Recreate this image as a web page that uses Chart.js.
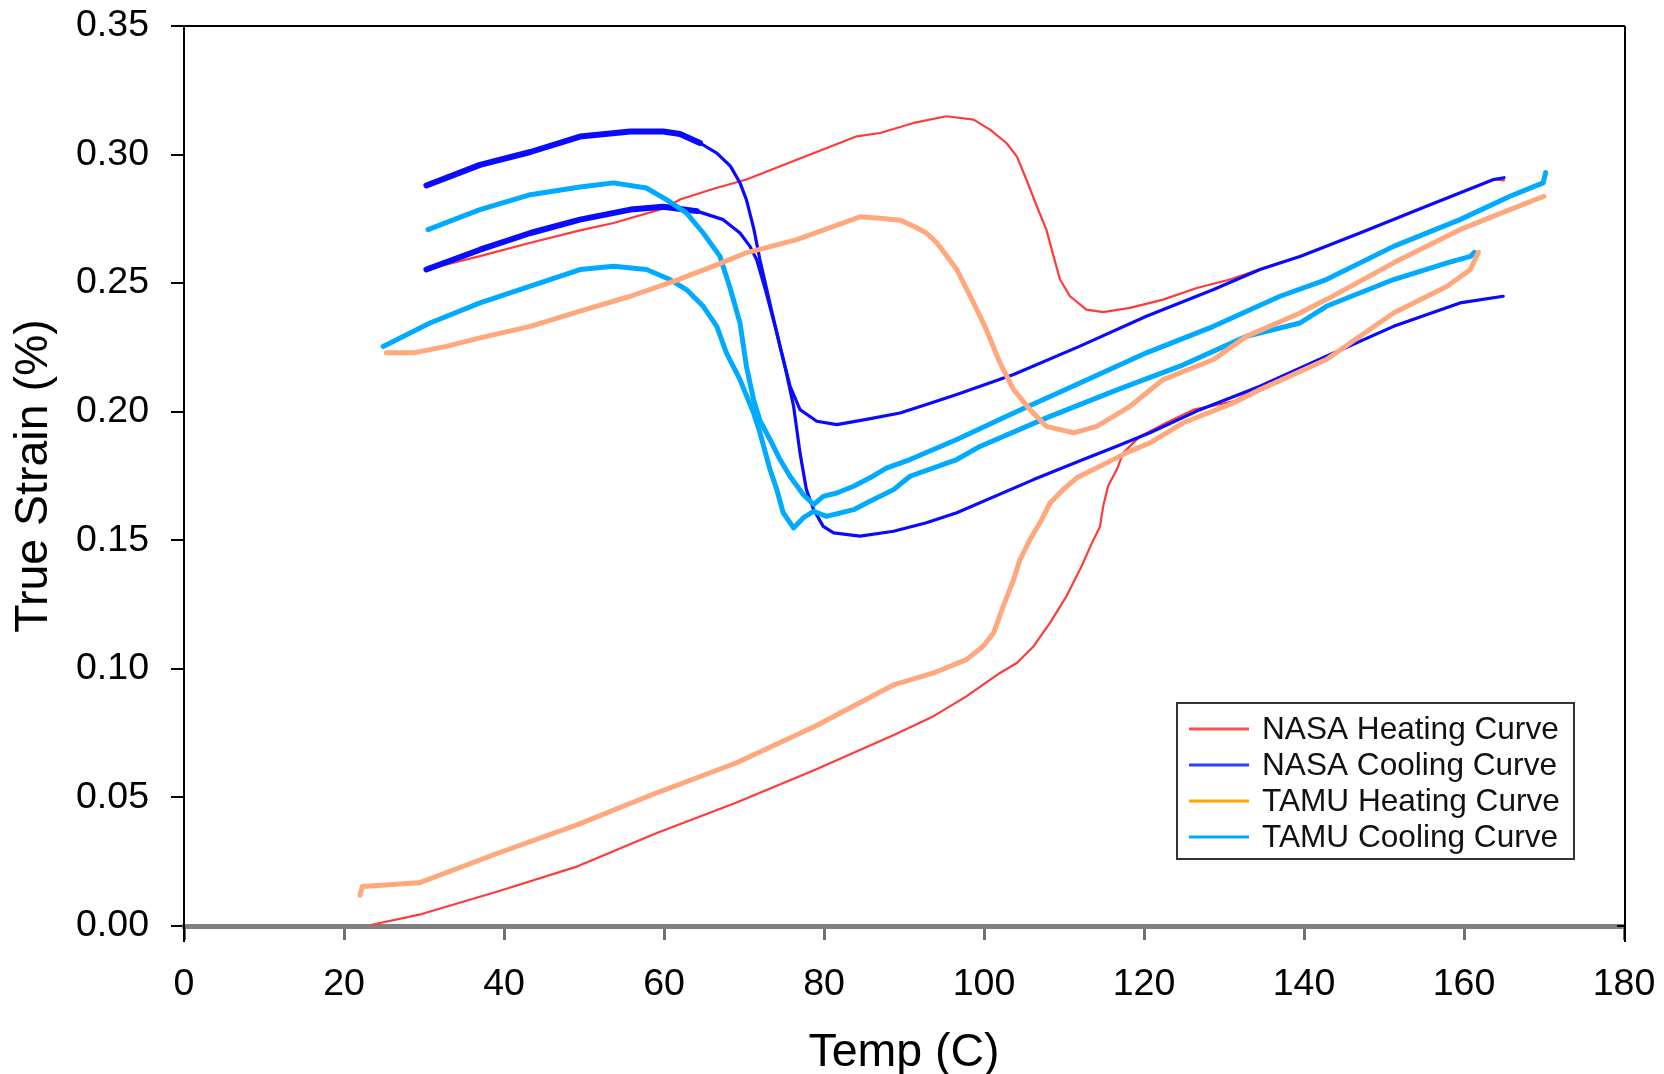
<!DOCTYPE html>
<html>
<head>
<meta charset="utf-8">
<script src="https://cdn.jsdelivr.net/npm/chart.js@4.4.1/dist/chart.umd.min.js"></script>
<style>
  html, body { margin: 0; padding: 0; background: #fff; }
  canvas { display: block; }
</style>
</head>
<body>
<canvas id="graficoCanvas" width="1664" height="1074"></canvas>
<script>
// tick labels
const xTickLabels = ['0', '20', '40', '60', '80', '100', '120', '140', '160', '180'];
const yTickLabels = ['0.00', '0.05', '0.10', '0.15', '0.20', '0.25', '0.30', '0.35'];

// NASA heating, first run (starts at 0)
const nasaHeatLowT = [23.5, 29.4, 39.3, 49.2, 59.1, 69, 78.9, 88.8, 93.7, 97.8, 102, 104.1, 106.2, 108.25, 110.3, 112, 113.5, 114.5, 114.9, 115.5, 116.6, 117.4, 119.5, 122.8, 126.2, 131.2, 134.5, 142.8, 151.2, 159.5, 164.9];
const nasaHeatLowS = [0.0005, 0.0044, 0.0135, 0.0232, 0.0362, 0.0479, 0.0608, 0.0744, 0.0816, 0.0893, 0.0984, 0.1023, 0.1088, 0.1179, 0.1282, 0.1386, 0.149, 0.1554, 0.1632, 0.171, 0.1775, 0.184, 0.1904, 0.1957, 0.2008, 0.204, 0.2099, 0.2216, 0.2332, 0.2423, 0.2449];

// NASA heating, second run
const nasaHeatUpT = [30.3, 37, 43.3, 49.5, 53.7, 59.9, 62, 66, 70.3, 76.6, 84.1, 87, 91.2, 95.3, 98.7, 100.75, 102.8, 104.1, 105.3, 106.6, 107.8, 108.7, 109.5, 110.75, 112.8, 114.9, 118.25, 122.4, 126.6, 130.75, 134.9, 139.5, 147, 155.3, 163.7, 165];
const nasaHeatUpS = [0.2553, 0.2605, 0.2657, 0.2705, 0.2734, 0.279, 0.2825, 0.2865, 0.2903, 0.298, 0.3071, 0.3084, 0.3123, 0.3149, 0.3136, 0.3097, 0.3045, 0.2993, 0.2903, 0.2799, 0.2708, 0.2604, 0.2514, 0.2449, 0.2397, 0.2387, 0.2404, 0.2436, 0.2481, 0.2514, 0.2559, 0.2604, 0.2695, 0.2799, 0.2903, 0.29];

// NASA cooling, upper loop
const nasaCoolUpT = [30.3, 37, 43.3, 49.5, 55.8, 59.9, 62, 64.5, 66.6, 68.3, 69.5, 70.3, 71.2, 72, 73.25, 74.5, 75.75, 77, 79.1, 81.6, 85.3, 89.5, 92.8, 96.6, 103.7, 112, 120.3, 128.7, 134.5, 139.5, 147, 155.3, 163.7, 165];
const nasaCoolUpS = [0.288, 0.296, 0.301, 0.307, 0.309, 0.309, 0.308, 0.3045, 0.3006, 0.2955, 0.289, 0.2825, 0.2715, 0.259, 0.242, 0.2255, 0.21, 0.2008, 0.1963, 0.195, 0.197, 0.1995, 0.2028, 0.2067, 0.2145, 0.2255, 0.2371, 0.2475, 0.2553, 0.2604, 0.2695, 0.2799, 0.2903, 0.291];

// NASA cooling, lower loop
const nasaCoolLowT = [30.3, 37, 43.3, 49.5, 55.8, 59.9, 64.1, 67.4, 69.5, 70.75, 71.6, 72.8, 74.1, 75.3, 76.2, 77, 77.8, 78.7, 79.9, 81.2, 84.5, 88.7, 92.8, 96.6, 106.2, 112.4, 116.6, 120.75, 127, 134.5, 142.8, 151.2, 159.5, 164.9];
const nasaCoolLowS = [0.2553, 0.263, 0.2695, 0.2747, 0.2786, 0.2797, 0.278, 0.2747, 0.2695, 0.2643, 0.259, 0.246, 0.2306, 0.2151, 0.2021, 0.184, 0.1697, 0.162, 0.1554, 0.1529, 0.1516, 0.1535, 0.1568, 0.1607, 0.1736, 0.1814, 0.1866, 0.1918, 0.2008, 0.2099, 0.2216, 0.2332, 0.2423, 0.2449];

// TAMU heating, first run
const tamuHeatLowT = [22, 22.3, 29.4, 39.3, 49.2, 59.1, 69, 78.9, 88.8, 93.7, 97.8, 99.9, 101.2, 102.4, 103.7, 104.5, 105.75, 107, 108.25, 109.9, 111.6, 114.5, 117.8, 120.75, 124.9, 131.2, 134.5, 142.8, 151.2, 157.9, 160.8, 161.8];
const tamuHeatLowS = [0.012, 0.0154, 0.0168, 0.0284, 0.0394, 0.0518, 0.0634, 0.0777, 0.0939, 0.0984, 0.1036, 0.1088, 0.114, 0.1243, 0.1347, 0.1425, 0.1503, 0.1568, 0.1645, 0.1697, 0.1743, 0.1788, 0.184, 0.1879, 0.1957, 0.2034, 0.2086, 0.2203, 0.2384, 0.2488, 0.2553, 0.262];

// TAMU heating, second run
const tamuHeatUpT = [25.3, 28.7, 32.8, 37, 43.3, 49.5, 55.8, 61.2, 66.2, 70.3, 76.6, 84.5, 87, 89.5, 91.2, 92.8, 94.1, 96.6, 98.7, 100.3, 102, 103.7, 105.75, 107.8, 111.2, 114.1, 118.25, 122.4, 128.7, 132.8, 139.5, 142.8, 151.2, 159.5, 165.75, 170];
const tamuHeatUpS = [0.2229, 0.2229, 0.2254, 0.2287, 0.2332, 0.2391, 0.2449, 0.2507, 0.2566, 0.2618, 0.2669, 0.2758, 0.2752, 0.2745, 0.2721, 0.2695, 0.2657, 0.2553, 0.2423, 0.2319, 0.219, 0.2086, 0.2008, 0.1943, 0.1918, 0.1943, 0.2021, 0.2125, 0.2203, 0.2293, 0.2384, 0.2436, 0.2579, 0.2708, 0.2786, 0.2838];

// TAMU cooling, upper loop (ends at 170)
const tamuCoolUpT = [30.5, 37, 43.3, 49.5, 53.7, 57.8, 60.3, 62.8, 64.9, 67, 68.25, 69.5, 70.3, 71.2, 72, 73.25, 74.5, 75.75, 77.4, 78.7, 79.9, 81.6, 83.7, 85.75, 87.8, 90.75, 96.6, 103.7, 112, 120.3, 128.7, 137, 142.8, 151.2, 159.5, 165.75, 169.9, 170.2];
const tamuCoolUpS = [0.2708, 0.2786, 0.2844, 0.2874, 0.289, 0.287, 0.2825, 0.2773, 0.2695, 0.2604, 0.2482, 0.2345, 0.2177, 0.2047, 0.1965, 0.1892, 0.1814, 0.1749, 0.1678, 0.1639, 0.1671, 0.1684, 0.171, 0.1743, 0.1781, 0.1814, 0.1892, 0.1995, 0.2112, 0.2229, 0.2332, 0.2449, 0.2514, 0.2643, 0.2747, 0.2838, 0.289, 0.293];

// TAMU cooling, lower loop (ends near 161)
const tamuCoolLowT = [24.9, 30.75, 37, 43.3, 49.5, 53.7, 57.8, 60.75, 62.8, 64.9, 66.6, 67.8, 69.5, 71.2, 72, 73.25, 74.1, 74.9, 76.2, 77.4, 78.7, 80.3, 83.7, 85.75, 88.7, 90.75, 96.6, 99.5, 107.8, 116.7, 124.5, 132.8, 139.5, 142.8, 151.2, 157.9, 160.8, 161.3];
const tamuCoolLowS = [0.2254, 0.2345, 0.2423, 0.2488, 0.2553, 0.2566, 0.2553, 0.2514, 0.2475, 0.241, 0.2332, 0.2229, 0.2125, 0.1995, 0.1918, 0.1775, 0.1697, 0.1607, 0.1548, 0.1587, 0.1613, 0.1593, 0.1619, 0.1652, 0.1697, 0.1749, 0.1814, 0.1865, 0.1976, 0.2086, 0.2177, 0.2293, 0.2345, 0.241, 0.2514, 0.2579, 0.2604, 0.262];

const legendLabels = ['NASA Heating Curve', 'NASA Cooling Curve', 'TAMU Heating Curve', 'TAMU Cooling Curve'];
const legendColors = ['#ff5050', '#2a40ff', '#ffa500', '#00aaff'];

const FONT = "'Liberation Sans', Arial, sans-serif";

function punti(t, s) {
    return t.map((x, i) => ({ x: x, y: s[i] }));
}

function curva(t, s, colore, spessore, ordine) {
    return {
        data: punti(t, s),
        showLine: true,
        borderColor: colore,
        borderWidth: spessore,
        pointRadius: 0,
        tension: 0,
        borderJoinStyle: 'round',
        borderCapStyle: 'round',
        order: ordine
    };
}

// blue line is thicker on the low-temperature plateau
const bluSpesso = {
    borderWidth: c => (c.p0.parsed.x < 64 ? 6 : 3.2)
};

const datasets = [
    curva(nasaHeatLowT, nasaHeatLowS, '#ff3a3a', 2.2, 4),
    curva(nasaHeatUpT, nasaHeatUpS, '#ff3a3a', 2.2, 4),
    Object.assign(curva(nasaCoolUpT, nasaCoolUpS, '#0a0aff', 3.2, 3), { segment: bluSpesso }),
    Object.assign(curva(nasaCoolLowT, nasaCoolLowS, '#0a0aff', 3.2, 3), { segment: bluSpesso }),
    curva(tamuCoolUpT, tamuCoolUpS, '#00aaff', 5, 2),
    curva(tamuCoolLowT, tamuCoolLowS, '#00aaff', 5, 2),
    curva(tamuHeatLowT, tamuHeatLowS, '#ffa87e', 5, 1),
    curva(tamuHeatUpT, tamuHeatUpS, '#ffa87e', 5, 1)
];

// frame: top and right border, axis stubs below the x axis
const cornice = {
    id: 'cornice',
    afterDraw(chart) {
        const { ctx, chartArea: a } = chart;
        ctx.save();
        ctx.strokeStyle = '#000';
        ctx.lineWidth = 2;
        ctx.beginPath();
        ctx.moveTo(a.left, a.top);
        ctx.lineTo(a.right + 1, a.top);
        ctx.moveTo(a.right + 1, a.top);
        ctx.lineTo(a.right + 1, a.bottom + 16);
        ctx.moveTo(a.right - 7, a.bottom);
        ctx.lineTo(a.right + 1, a.bottom);
        ctx.moveTo(a.left, a.bottom);
        ctx.lineTo(a.left, a.bottom + 16);
        ctx.stroke();
        ctx.restore();
    }
};

// boxed legend inside the plot
const legendaBox = {
    id: 'legendaBox',
    afterDraw(chart) {
        const ctx = chart.ctx;
        const x0 = 1177, y0 = 703, w = 397, h = 156;
        ctx.save();
        ctx.fillStyle = '#fff';
        ctx.fillRect(x0, y0, w, h);
        ctx.strokeStyle = '#333';
        ctx.lineWidth = 2;
        ctx.strokeRect(x0, y0, w, h);
        ctx.font = '31.6px ' + FONT;
        ctx.textBaseline = 'middle';
        ctx.textAlign = 'left';
        for (let i = 0; i < legendLabels.length; i++) {
            const yy = y0 + 26 + i * 36;
            ctx.strokeStyle = legendColors[i];
            ctx.lineWidth = 3;
            ctx.beginPath();
            ctx.moveTo(x0 + 12, yy);
            ctx.lineTo(x0 + 72, yy);
            ctx.stroke();
            ctx.fillStyle = '#111';
            ctx.fillText(legendLabels[i], x0 + 85, yy + 1);
        }
        ctx.restore();
    }
};

const graf = document.getElementById('graficoCanvas').getContext('2d');

new Chart(graf, {
    type: 'scatter',
    data: { datasets: datasets },
    options: {
        responsive: false,
        animation: false,
        layout: { padding: { top: 26, right: 40, left: 0, bottom: 0 } },
        plugins: {
            legend: { display: false },
            tooltip: { enabled: false }
        },
        scales: {
            x: {
                type: 'linear',
                min: 0,
                max: 180,
                afterFit: s => {
                    s.height = 148;
                    s.paddingLeft = 0;
                    s.paddingRight = 0;
                },
                ticks: {
                    stepSize: 20,
                    color: '#000',
                    padding: 22,
                    maxRotation: 0,
                    font: { family: FONT, size: 37.5 },
                    callback: (v, i) => xTickLabels[i]
                },
                grid: { drawOnChartArea: false, color: '#6f6f6f', lineWidth: 3, tickLength: 14 },
                border: { color: '#808080', width: 5 },
                title: {
                    display: true,
                    text: 'Temp (C)',
                    color: '#000',
                    font: { family: FONT, size: 46.5 },
                    padding: { top: 0, bottom: -7 }
                }
            },
            y: {
                type: 'linear',
                min: 0,
                max: 0.35,
                afterFit: s => {
                    s.width = 184;
                    s.paddingTop = 0;
                    s.paddingBottom = 0;
                },
                ticks: {
                    stepSize: 0.05,
                    color: '#000',
                    padding: 22,
                    font: { family: FONT, size: 37.5 },
                    callback: (v, i) => yTickLabels[i]
                },
                grid: { drawOnChartArea: false, color: '#000', lineWidth: 2, tickLength: 13 },
                border: { color: '#000', width: 2 },
                title: {
                    display: true,
                    text: 'True Strain (%)',
                    color: '#000',
                    font: { family: FONT, size: 46.5 },
                    padding: { top: 6.5, bottom: 0 }
                }
            }
        }
    },
    plugins: [cornice, legendaBox]
});
</script>
</body>
</html>
